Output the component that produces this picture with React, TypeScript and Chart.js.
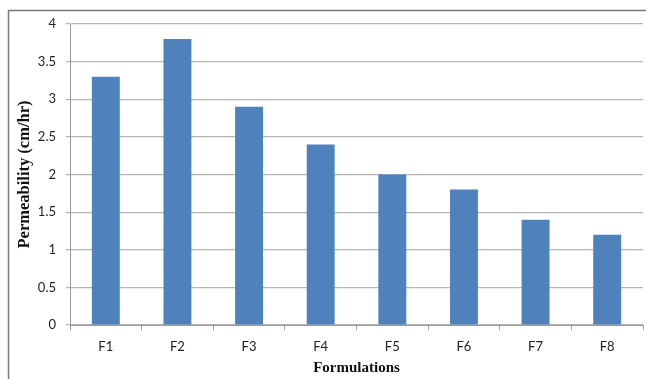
import React, { useEffect, useRef } from "react";
import { Chart, registerables } from "chart.js";

Chart.register(...registerables);

const formulations = ["F1", "F2", "F3", "F4", "F5", "F6", "F7", "F8"];
const permeability = [3.3, 3.8, 2.9, 2.4, 2.0, 1.8, 1.4, 1.2];
const yTickValues = [0, 0.5, 1, 1.5, 2, 2.5, 3, 3.5, 4];

const xTitle = "Formulations";
const yTitle = "Permeability (cm/hr)";

// Grey frame around the chart (left and top edges; right and bottom run off the canvas)
const framePlugin = {
  id: "frame",
  beforeDraw(chart: any) {
    const { ctx, width, height } = chart;
    ctx.save();
    ctx.strokeStyle = "#7a7a7a";
    ctx.lineWidth = 1.5;
    ctx.beginPath();
    ctx.moveTo(8.5, height + 2);
    ctx.lineTo(8.5, 10.5);
    ctx.lineTo(width + 2, 10.5);
    ctx.stroke();
    ctx.restore();
  },
};

export default function App() {
  const canvasRef = useRef<HTMLCanvasElement | null>(null);

  useEffect(() => {
    if (!canvasRef.current) return;
    const tickFont = { family: "Lato, 'Open Sans', sans-serif", size: 13 };
    const serif = "'Liberation Serif', 'Times New Roman', serif";
    const chart = new Chart(canvasRef.current, {
      type: "bar",
      data: {
        labels: formulations,
        datasets: [
          {
            label: "Permeability",
            data: permeability,
            backgroundColor: "#4F81BD",
            borderWidth: 0,
            categoryPercentage: 1,
            barPercentage: 0.39,
          },
        ],
      },
      options: {
        animation: false,
        responsive: false,
        maintainAspectRatio: false,
        layout: { padding: { left: 12, top: 24, right: 3, bottom: 0 } },
        plugins: {
          legend: { display: false },
          tooltip: { enabled: false },
        },
        scales: {
          x: {
            grid: {
              offset: true,
              drawOnChartArea: false,
              drawTicks: true,
              tickLength: 5,
              color: "#9a9a9a",
            },
            border: { color: "#9a9a9a", width: 1 },
            ticks: { color: "#222", font: tickFont, padding: 9 },
            title: {
              display: true,
              text: xTitle,
              color: "#111",
              font: { family: serif, size: 15, weight: "bold" as const },
              padding: { top: 0, bottom: 2 },
            },
            afterFit(scale: any) {
              scale.height = 54;
            },
          },
          y: {
            min: 0,
            max: 4,
            afterBuildTicks(scale: any) {
              scale.ticks = yTickValues.map((v) => ({ value: v }));
            },
            grid: {
              color: "#b5b5b5",
              tickLength: 4,
              lineWidth: 1.2,
            },
            border: { color: "#9a9a9a", width: 1 },
            ticks: {
              color: "#222",
              font: tickFont,
              padding: 10,
              callback: (v: any) => String(v),
            },
            title: {
              display: true,
              text: yTitle,
              color: "#111",
              font: { family: serif, size: 16.5, weight: "bold" as const },
              padding: { top: 3, bottom: 0 },
            },
            afterFit(scale: any) {
              scale.width = 58;
            },
          },
        },
      },
      plugins: [framePlugin],
    });
    return () => chart.destroy();
  }, []);

  return (
    <div style={{ position: "fixed", left: 0, top: 0, width: 646, height: 379, overflow: "hidden", background: "#fff" }}>
      <canvas ref={canvasRef} width={646} height={379} style={{ display: "block" }} />
    </div>
  );
}
